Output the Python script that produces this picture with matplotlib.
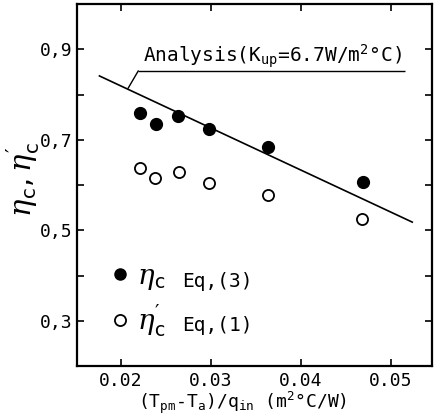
import matplotlib
matplotlib.use("Agg")
import matplotlib.pyplot as plt
from matplotlib.ticker import FixedLocator
from matplotlib.lines import Line2D

# ---- data ----
x_filled = [0.0221, 0.0239, 0.0263, 0.0298, 0.0364, 0.0469]
eta_c = [0.759, 0.735, 0.752, 0.724, 0.685, 0.606]
x_open = [0.0221, 0.0238, 0.0264, 0.0298, 0.0364, 0.0468]
eta_c_prime = [0.637, 0.615, 0.628, 0.605, 0.577, 0.524]
analysis_x = [0.0176, 0.0524]
analysis_y = [0.841, 0.518]
x_ticks = [0.02, 0.03, 0.04, 0.05]
x_tick_labels = ["0.02", "0.03", "0.04", "0.05"]
y_ticks = [0.3, 0.5, 0.7, 0.9]
y_tick_labels = ["0,3", "0,5", "0,7", "0,9"]

plt.rcParams["font.family"] = ["DejaVu Sans Mono", "DejaVu Sans"]
plt.rcParams["mathtext.fontset"] = "custom"
plt.rcParams["mathtext.rm"] = "DejaVu Sans"
plt.rcParams["mathtext.tt"] = "DejaVu Sans Mono"
plt.rcParams["mathtext.it"] = "DejaVu Serif:italic"

fig = plt.figure(figsize=(4.36, 4.20), dpi=100)
ax = fig.add_axes([77 / 436, 1 - 366 / 420, 355 / 436, 362 / 420])

ax.set_xlim(0.0151, 0.0546)
ax.set_ylim(0.2, 1.0)

# analysis line
ax.plot(analysis_x, analysis_y, color="black", lw=1.2)

# data
ax.plot(x_filled, eta_c, "o", ms=8.5, mfc="black", mec="black", mew=1.0, ls="none")
ax.plot(x_open, eta_c_prime, "o", ms=8.0, mfc="white", mec="black", mew=1.3, ls="none")

# annotation with leader + underline
ax.annotate("", xy=(0.02078, 0.8136), xytext=(0.02192, 0.8523),
            arrowprops=dict(arrowstyle="-", color="black", lw=1.0,
                            shrinkA=0, shrinkB=0))
ax.hlines(0.8523, 0.02192, 0.05159, color="black", lw=1.0)
ax.text(0.02248, 0.8714, r"Analysis(K$_{\mathtt{up}}$=6.7W/m$^{\mathtt{2}}$°C)",
        fontsize=14, ha="left", va="baseline")

# legend
handles = [
    Line2D([], [], marker="o", ls="none", ms=8, mfc="black", mec="black"),
    Line2D([], [], marker="o", ls="none", ms=8, mfc="white", mec="black", mew=1.3),
]
labels = [r"$\eta_{\mathtt{c}}$", r"$\eta^{\prime}_{\mathtt{c}}$"]
leg = ax.legend(handles, labels, loc="center left",
                bbox_to_anchor=(0.0190, 0.344), bbox_transform=ax.transData,
                frameon=False, fontsize=20, handlelength=0.6, handletextpad=0.3,
                borderpad=0, borderaxespad=0, labelspacing=0.38)
ax.text(0.0268, 0.386, "Eq,(3)", fontsize=14, ha="left", va="center")
ax.text(0.0268, 0.290, "Eq,(1)", fontsize=14, ha="left", va="center")

# ticks
ax.xaxis.set_major_locator(FixedLocator(x_ticks))
ax.set_xticklabels(x_tick_labels)
ax.yaxis.set_major_locator(FixedLocator(y_ticks))
ax.set_yticklabels(y_tick_labels)
ax.yaxis.set_minor_locator(FixedLocator([0.4, 0.6, 0.8]))
ax.tick_params(which="both", direction="in", top=True, right=True,
               length=5, width=1.2, labelsize=13)
ax.tick_params(axis="x", pad=4)
ax.tick_params(axis="y", pad=3)
for s in ax.spines.values():
    s.set_linewidth(1.6)

ax.set_xlabel(r"(T$_{\mathtt{pm}}$-T$_{\mathtt{a}}$)/q$_{\mathtt{in}}$ (m$^{\mathtt{2}}$°C/W)",
              fontsize=13)
ax.xaxis.set_label_coords(0.465, -0.102)
ax.xaxis.label.set_va("center")
ax.set_ylabel(r"$\eta_{\mathtt{c}}, \eta^{\prime}_{\mathtt{c}}$", fontsize=21)
ax.yaxis.set_label_coords(-0.152, 0.515)
ax.yaxis.label.set_va("center")

fig.savefig("out.png", dpi=100)
